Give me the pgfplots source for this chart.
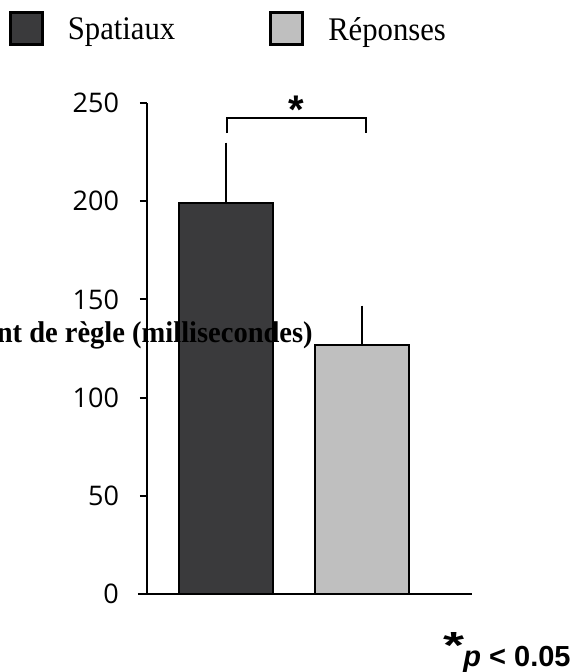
\documentclass[border=0pt]{standalone}
\usepackage{pgfplots}
\pgfplotsset{compat=1.18}
\usepackage{fontspec}
\setmainfont{Liberation Serif}
\newfontfamily\ticksfont{Open Sans}
\newfontfamily\arialfont{Liberation Sans}
\definecolor{darkbar}{HTML}{3A3A3C}
\definecolor{lightbar}{HTML}{BFBFBF}
\begin{document}
\begin{tikzpicture}[x=1pt,y=1pt]
\useasboundingbox (0,0) rectangle (287,336);
\begin{axis}[
  at={(73.5pt,39pt)}, anchor=south west,
  scale only axis, width=162.5pt, height=245.5pt,
  xmin=0.417, xmax=2.815, ymin=0, ymax=250,
  axis x line=bottom, axis y line=left,
  x axis line style={-, line width=1pt, shorten <=-4.5pt},
  y axis line style={-, line width=1pt},
  xtick=\empty,
  ytick={0,50,100,150,200,250},
  tick align=outside, major tick length=3.5pt,
  tick style={line width=1pt, black},
  yticklabel style={font=\ticksfont\fontsize{13.5}{13.5}\selectfont, xshift=-7pt},
  /pgf/number format/assume math mode=true,
  clip=false,
  ylabel={\scalebox{0.95}[1]{Coût de changement de règle (millisecondes)}},
  ylabel style={rotate=-90, at={(axis description cs:0.511,0.513)}, anchor=base east, inner sep=0pt, font=\bfseries\fontsize{15}{15}\selectfont},
  legend style={at={(axis description cs:-0.425,1.187)}, anchor=north west, draw=none, fill=none, inner sep=0pt, outer sep=0pt,
    font=\fontsize{16.5}{16.5}\selectfont, legend columns=2,
    /tikz/every odd column/.append style={column sep=10pt},
    /tikz/every even column/.append style={column sep=45pt}},
  legend image code/.code={\draw[#1, draw=black, line width=1.5pt] (0pt,-7.25pt) rectangle (16pt,8.75pt);},
]
\addplot[ybar, bar shift=0pt, bar width=47pt, fill=darkbar, draw=black, line width=1pt,
  error bars/.cd, y dir=plus, y explicit, error bar style={line width=1pt, black},
  error mark options={black, line width=1pt, mark size=1.75pt}]
  coordinates {(1,199) +- (0,29)};
\addlegendentry{\scalebox{0.93}[1]{Spatiaux}}
\addplot[ybar, bar shift=0pt, bar width=47pt, fill=lightbar, draw=black, line width=1pt,
  error bars/.cd, y dir=plus, y explicit, error bar style={line width=1pt, black},
  error mark options={black, line width=1pt, mark size=1.75pt}]
  coordinates {(2,127) +- (0,18)};
\addlegendentry{\scalebox{0.93}[1]{Réponses}}
\draw[line width=1pt] (axis cs:1.007,234.7) -- (axis cs:1.007,242.4) -- (axis cs:2.033,242.4) -- (axis cs:2.033,234.7);
\node[anchor=base, inner sep=0pt, font=\arialfont\bfseries\fontsize{20}{20}\selectfont] at (axis cs:1.515,239.5) {*};
\end{axis}
\node[anchor=base east, inner sep=0pt, font=\arialfont\bfseries\fontsize{14.5}{14.5}\selectfont] at (285.5,2.5) {\raisebox{4.3pt}{\scalebox{1}[0.7]{\fontsize{27}{27}\selectfont *}}\hspace{-0.5pt}\textit{p} < 0.05};
\end{tikzpicture}
\end{document}
